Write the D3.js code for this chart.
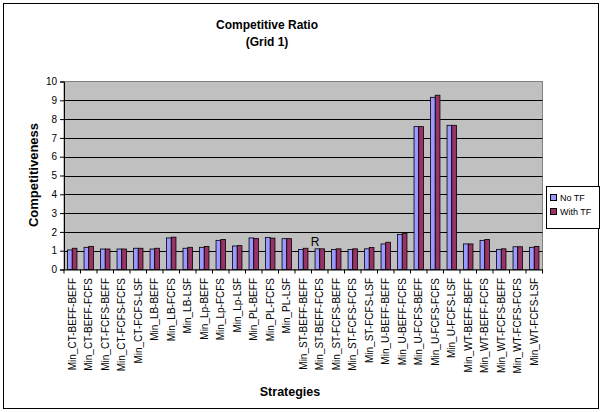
<!DOCTYPE html>
<html><head><meta charset="utf-8">
<script src="https://cdn.jsdelivr.net/npm/d3@7"></script>
<style>body{margin:0;background:#fff}svg{display:block;font-family:"Liberation Sans",Arial,sans-serif}</style>
</head><body><svg id="c" width="602" height="412"></svg>
<script>
const categories = ["Min_CT-BEFF-BEFF","Min_CT-BEFF-FCFS","Min_CT-FCFS-BEFF","Min_CT-FCFS-FCFS","Min_CT-FCFS-LSF","Min_LB-BEFF","Min_LB-FCFS","Min_LB-LSF","Min_Lp-BEFF","Min_Lp-FCFS","Min_Lp-LSF","Min_PL-BEFF","Min_PL-FCFS","Min_PL-LSF","Min_ST-BEFF-BEFF","Min_ST-BEFF-FCFS","Min_ST-FCFS-BEFF","Min_ST-FCFS-FCFS","Min_ST-FCFS-LSF","Min_U-BEFF-BEFF","Min_U-BEFF-FCFS","Min_U-FCFS-BEFF","Min_U-FCFS-FCFS","Min_U-FCFS-LSF","Min_WT-BEFF-BEFF","Min_WT-BEFF-FCFS","Min_WT-FCFS-BEFF","Min_WT-FCFS-FCFS","Min_WT-FCFS-LSF"];
const noTF   = [1.04,1.18,1.09,1.09,1.13,1.09,1.68,1.13,1.18,1.55,1.25,1.68,1.70,1.64,1.07,1.10,1.07,1.07,1.10,1.36,1.87,7.60,9.16,7.67,1.36,1.55,1.07,1.21,1.18];
const withTF = [1.13,1.23,1.09,1.09,1.13,1.13,1.72,1.18,1.23,1.60,1.27,1.65,1.67,1.64,1.13,1.10,1.10,1.10,1.17,1.45,1.93,7.60,9.27,7.67,1.36,1.60,1.10,1.21,1.23];
const seriesNames = ["No TF","With TF"];
const seriesColors = ["#9999FF","#993366"];
const yTicks = [0,1,2,3,4,5,6,7,8,9,10];

const svg = d3.select("#c");
svg.append("rect").attr("x",3.5).attr("y",3.5).attr("width",595).attr("height",405).attr("fill","#fff").attr("stroke","#000");

const L=64, R=542.5, T=81.5, B=269.5;
const x = d3.scaleBand().domain(categories).range([L,R]);
const y = d3.scaleLinear().domain([0,10]).range([B,T]);

svg.append("rect").attr("x",L).attr("y",T).attr("width",R-L).attr("height",B-T).attr("fill","#C0C0C0").attr("stroke","#808080");

// gridlines
svg.append("g").selectAll("line").data(yTicks.slice(1,-1)).join("line")
  .attr("x1",L).attr("x2",R).attr("y1",d=>Math.round(y(d))+0.5).attr("y2",d=>Math.round(y(d))+0.5).attr("stroke","#000");

const bw = x.bandwidth()/3.5;
const data = categories.map((c,i)=>({c, v:[noTF[i],withTF[i]]}));
const g = svg.append("g");
data.forEach(d=>{
  d.v.forEach((v,k)=>{
    g.append("rect").attr("x",x(d.c)+bw*0.75+k*bw).attr("y",y(v)).attr("width",bw).attr("height",B-y(v))
     .attr("fill",seriesColors[k]).attr("stroke","#000").attr("stroke-width",0.8);
  });
});

// y axis
const ya = svg.append("g").attr("transform",`translate(${L},0)`)
  .call(d3.axisLeft(y).tickValues(yTicks).tickSize(4).tickPadding(3));
ya.select(".domain").attr("stroke","#000");
ya.selectAll("text").attr("font-size","10px").attr("fill","#000").attr("font-family","Liberation Sans, Arial");

// x axis
const xa = svg.append("g").attr("transform",`translate(0,${B})`)
  .call(d3.axisBottom(x).tickSize(0).tickSizeOuter(0));
xa.select(".domain").attr("stroke","#000");
xa.selectAll("text").attr("font-size","10px").attr("fill","#000").attr("font-family","Liberation Sans, Arial")
  .attr("transform","rotate(-90)").attr("text-anchor","end").attr("dx","-8.5px").attr("dy","0.35em").attr("y",0).attr("x",0);
svg.append("g").selectAll("line").data(categories.concat(["end"])).join("line")
  .attr("x1",(d,i)=>L+i*x.step()).attr("x2",(d,i)=>L+i*x.step()).attr("y1",B).attr("y2",B+4).attr("stroke","#000");

// titles
svg.append("text").attr("x",267).attr("y",29).attr("text-anchor","middle").attr("font-size","12px").attr("font-weight","bold").text("Competitive Ratio");
svg.append("text").attr("x",267).attr("y",46).attr("text-anchor","middle").attr("font-size","12px").attr("font-weight","bold").text("(Grid 1)");
svg.append("text").attr("transform","translate(38,175) rotate(-90)").attr("text-anchor","middle").attr("font-size","13px").attr("font-weight","bold").text("Competitiveness");
svg.append("text").attr("x",290).attr("y",396).attr("text-anchor","middle").attr("font-size","12.5px").attr("font-weight","bold").text("Strategies");
svg.append("text").attr("x",315).attr("y",246).attr("text-anchor","middle").attr("font-size","12px").text("R");

// legend
const lg = svg.append("g");
lg.append("rect").attr("x",546.5).attr("y",186.5).attr("width",53).attr("height",42).attr("fill","#fff").attr("stroke","#000");
seriesNames.forEach((n,k)=>{
  lg.append("rect").attr("x",550.5).attr("y",194.5+k*14).attr("width",6).attr("height",6).attr("fill",seriesColors[k]).attr("stroke","#000");
  lg.append("text").attr("x",560).attr("y",201+k*14).attr("font-size","9px").text(n);
});
</script></body></html>
